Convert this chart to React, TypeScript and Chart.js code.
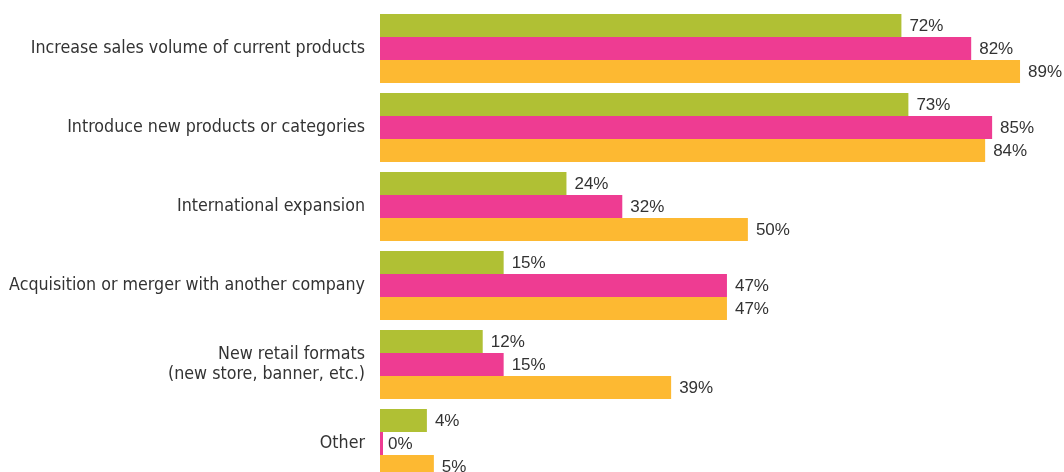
import React, { useEffect, useRef } from "react";
import { Chart, registerables } from "chart.js";

Chart.register(...registerables);

const categories: (string | string[])[] = [
  "Increase sales volume of current products",
  "Introduce new products or categories",
  "International expansion",
  "Acquisition or merger with another company",
  ["New retail formats", "(new store, banner, etc.)"],
  "Other",
];

const seriesGreen = [72, 73, 24, 15, 12, 4];
const seriesPink = [82, 85, 32, 47, 15, 0];
const seriesOrange = [89, 84, 50, 47, 39, 5];

const GREEN = "#b0c034";
const PINK = "#ee3c92";
const ORANGE = "#fdb932";

// bars are drawn from a common start slightly left of the 0% value
const AXIS_MIN = -2.72;
const AXIS_MAX = 95.3;

// zero values are drawn as a minimal stub (via minBarLength)
const toBars = (values: number[]) =>
  values.map((v) => [AXIS_MIN, v === 0 ? AXIS_MIN : v]);

const valueLabels = {
  id: "valueLabels",
  afterDatasetsDraw(chart: any) {
    const ctx = chart.ctx;
    const sources = [seriesGreen, seriesPink, seriesOrange];
    ctx.save();
    ctx.font = '17px "Liberation Sans", Arial, sans-serif';
    ctx.fillStyle = "#333333";
    ctx.textBaseline = "middle";
    ctx.textAlign = "left";
    chart.data.datasets.forEach((_ds: any, di: number) => {
      const meta = chart.getDatasetMeta(di);
      meta.data.forEach((bar: any, i: number) => {
        const v = sources[di][i];
        const gap = v === 0 ? 5 : 8;
        ctx.fillText(v + "%", bar.x + gap, bar.y + 1);
      });
    });
    ctx.restore();
  },
};

export default function App() {
  const ref = useRef<HTMLCanvasElement>(null);

  useEffect(() => {
    if (!ref.current) return;
    const chart = new Chart(ref.current, {
      type: "bar",
      data: {
        labels: categories,
        datasets: [
          { data: toBars(seriesGreen), backgroundColor: GREEN },
          { data: toBars(seriesPink), backgroundColor: PINK },
          { data: toBars(seriesOrange), backgroundColor: ORANGE },
        ] as any,
      },
      options: {
        indexAxis: "y",
        animation: false,
        responsive: false,
        maintainAspectRatio: false,
        layout: { padding: { top: 9, right: 0, bottom: 0, left: 0 } },
        datasets: {
          bar: {
            categoryPercentage: 0.873,
            barPercentage: 1,
            borderWidth: 0,
            base: AXIS_MIN,
            minBarLength: 3,
          },
        },
        plugins: {
          legend: { display: false },
          tooltip: { enabled: false },
        },
        scales: {
          x: {
            display: false,
            min: AXIS_MIN,
            max: AXIS_MAX,
          },
          y: {
            grid: { display: false, drawTicks: false },
            border: { display: false },
            afterFit: (scale: any) => {
              scale.width = 380;
              scale.paddingTop = 0;
              scale.paddingBottom = 0;
            },
            ticks: {
              padding: 15,
              color: "#333333",
              font: {
                family: '"Liberation Sans Narrow", "DejaVu Sans Condensed", sans-serif',
                size: 17.7,
                lineHeight: 1.15,
              },
            },
          },
        },
      },
      plugins: [valueLabels],
    });
    return () => chart.destroy();
  }, []);

  return (
    <div
      style={{
        position: "fixed",
        left: 0,
        top: 0,
        width: 1064,
        height: 472,
        overflow: "hidden",
        background: "#ffffff",
      }}
    >
      <canvas ref={ref} width={1064} height={483} style={{ display: "block" }} />
    </div>
  );
}
